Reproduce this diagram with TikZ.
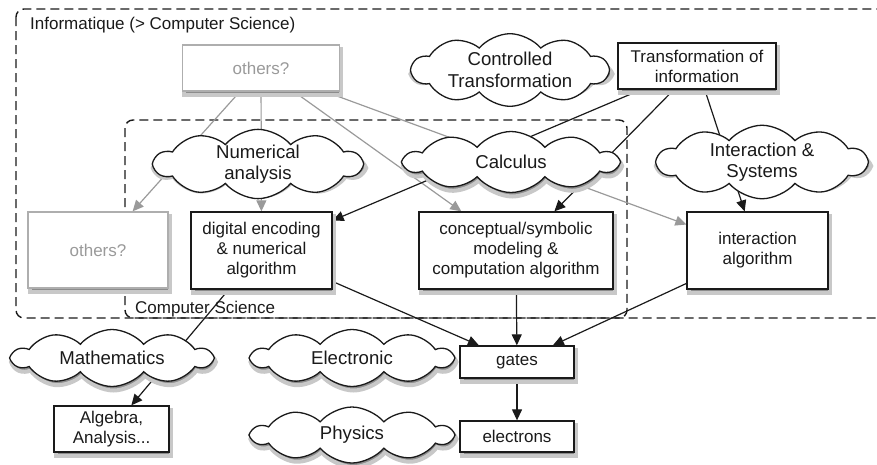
\documentclass[tikz,border=0pt]{standalone}
\usepackage{fontspec}
\setmainfont{Liberation Sans}
\usetikzlibrary{arrows.meta,shapes.symbols,backgrounds}

\newcommand\boxtxt{\fontsize{17}{20}\selectfont}
\newcommand\cloudtxt{\fontsize{18.6}{21.5}\selectfont}
\definecolor{ink}{HTML}{1A1A1A}
\definecolor{pale}{HTML}{9A9A9A}
\definecolor{shadowgrey}{HTML}{8C8C8C}
\definecolor{haze}{HTML}{C8C8C8}

\tikzset{
  box/.style={draw=ink, line width=1.3pt, fill=white, text=ink, align=center,
    inner sep=0pt, font=\boxtxt},
  greybox/.style={box, draw=pale!80, text=pale},
  puff/.style={cloud, cloud puffs=10, cloud puff arc=100, cloud ignores aspect,
    draw=ink, line width=1.3pt, fill=white, text=ink, align=center,
    inner sep=0pt, font=\cloudtxt},
  ghost/.style={draw=haze, line width=4pt, fill=shadowgrey},
  link/.style={draw=ink, line width=1.2pt, -{Triangle[length=11pt,width=10pt]}},
  glink/.style={link, draw=pale, -{Triangle[length=11pt,width=10pt,fill=pale]}},
  frame/.style={draw=ink, line width=1.4pt, dash pattern=on 9pt off 5pt,
    rounded corners=8pt}
}

% node with a shadow drawn just before it: style, name, position, text
\newcommand\shnode[4]{%
  \path (#3) ++(1.5,4) node[#1, ghost] {};
  \node[#1] (#2) at (#3) {#4};}

\begin{document}
\begin{tikzpicture}[x=1pt,y=-1pt]
\clip (0,0) rectangle (877,464);

% top row
\shnode{greybox, minimum width=157pt, minimum height=46pt}{othT}{261,68}{others?}
\shnode{puff, minimum width=196pt, minimum height=54pt}{ctrl}{510,70}{Controlled\\Transformation}
\shnode{box, minimum width=158pt, minimum height=46pt}{trans}{697,66}{Transformation of\\information}

% clouds of the middle row
\shnode{puff, minimum width=207pt, minimum height=58pt}{numer}{258,164}{Numerical\\analysis}
\shnode{puff, minimum width=213pt, minimum height=61pt}{calc}{511,162}{Calculus}
\shnode{puff, minimum width=209pt, minimum height=59pt}{inter}{762,162}{Interaction \&\\Systems}

% algorithms
\shnode{greybox, minimum width=140pt, minimum height=76pt}{othL}{98,250}{others?}
\shnode{box, minimum width=141pt, minimum height=77pt}{digi}{261.5,250.5}{digital encoding\\\& numerical\\algorithm}
\shnode{box, minimum width=194pt, minimum height=77pt}{conc}{516,250.5}{conceptual/symbolic\\modeling \&\\computation algorithm}
\shnode{box, minimum width=141pt, minimum height=77pt}{ialg}{757.5,250.5}{interaction\\algorithm}

% below
\shnode{puff, minimum width=199pt, minimum height=57pt}{math}{112,358}{Mathematics}
\shnode{puff, minimum width=200pt, minimum height=57pt}{elecn}{352,358}{Electronic}
\shnode{puff, minimum width=200pt, minimum height=56pt}{phys}{352,435}{Physics}
\shnode{box, minimum width=115pt, minimum height=46pt}{alg}{111.5,429}{Algebra,\\Analysis...}
\shnode{box, minimum width=114pt, minimum height=32pt}{gates}{517,362}{gates}
\shnode{box, minimum width=114pt, minimum height=31pt}{elec}{517,436.5}{electrons}

\begin{scope}[on background layer]
% frames
\draw[frame] (16,9) rectangle (900,318);
\draw[frame] (125,120) rectangle (627,318);
\node[anchor=west, text=ink, font=\boxtxt, inner sep=0pt] (infolbl) at (30,25) {Informatique (> Computer Science)};
\node[anchor=west, text=ink, font=\boxtxt, inner sep=0pt] (cslbl) at (135,309) {Computer Science};

% grey links
\draw[glink] (othT) -- (othL);
\draw[glink] (othT) -- (digi);
\draw[glink] (othT) -- (conc);
\draw[glink] (othT) -- (ialg);

% black links
\draw[link] (trans) -- (digi);
\draw[link] (trans) -- (conc);
\draw[link] (trans) -- (ialg);
\draw[link] (digi) -- (alg);
\draw[link] (digi) -- (gates);
\draw[link] (conc) -- (gates);
\draw[link] (ialg) -- (gates);
\draw[link] (gates) -- (elec);
\end{scope}
\end{tikzpicture}
\end{document}
